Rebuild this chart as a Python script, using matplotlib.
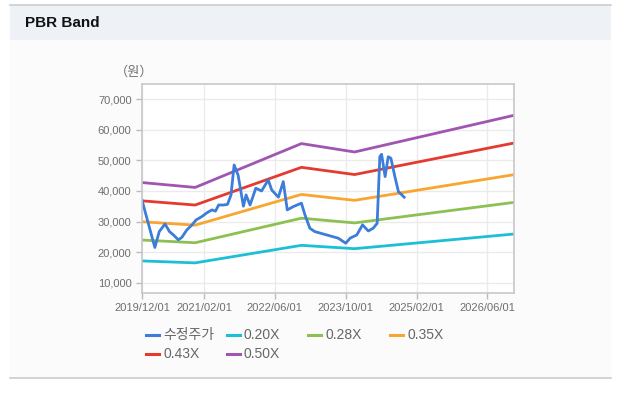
import matplotlib.pyplot as plt
from matplotlib.lines import Line2D
from matplotlib.patches import Rectangle

plt.rcParams['font.family'] = ['Liberation Sans', 'Noto Sans CJK KR', 'DejaVu Sans']

# ---- data (x = months since 2019/12/01) ----
tick_pos = [0, 14, 30, 46, 62, 78]
tick_labels = ['2019/12/01', '2021/02/01', '2022/06/01', '2023/10/01', '2025/02/01', '2026/06/01']

# book value per share at band knots
bps_month = [0, 12, 36, 48, 84]
bps = [85500, 82300, 111000, 105500, 129500]

multiples = [0.20, 0.28, 0.35, 0.43, 0.50]
band_names = ['0.20X', '0.28X', '0.35X', '0.43X', '0.50X']

# adjusted price
price_month = [0, 2.9, 3.9, 5.2, 6.2, 7.1, 8.2, 9.0, 10.1, 11.3, 12.2, 13.5, 14.7, 15.8,
               16.6, 17.3, 18.4, 19.3, 20.1, 20.8, 21.7, 22.9, 23.5, 24.4, 25.7, 27.0,
               28.5, 29.3, 30.8, 31.9, 32.8, 34.2, 36.0, 36.8, 37.9, 39.0, 41.7, 44.3,
               46.0, 47.0, 48.5, 49.8, 51.1, 52.2, 53.1, 53.7, 54.1, 54.9, 55.6, 56.2,
               57.1, 57.9, 59.2]
price = [37000, 21500, 26700, 29200, 26700, 25600, 24000, 24800, 27200, 28900, 30500,
         31600, 32900, 33800, 33400, 35400, 35400, 35600, 38700, 48500, 45200, 35000,
         38700, 35400, 40900, 40000, 43600, 40300, 37950, 43050, 33800, 34900, 36000,
         32150, 27800, 26700, 25600, 24550, 22900, 24550, 25600, 28900, 26900, 27800,
         29400, 51200, 52000, 44700, 51200, 50700, 44700, 39800, 37950]

price_color = '#3b7dd8'
band_colors = ['#1cbfd3', '#8cc152', '#f9a530', '#e53a2f', '#a055b0']

# ---- figure ----
fig = plt.figure(figsize=(6.2, 3.98), dpi=100)
W, H = 620, 398

def fx(px):
    return px / W

def fy(py):
    return 1 - py / H

# panel background, header, borders
fig.patches.append(Rectangle((fx(10), fy(378)), fx(600.5), 338 / H, transform=fig.transFigure,
                             facecolor='#fbfbfb', edgecolor='none', zorder=-2))
fig.patches.append(Rectangle((fx(10), fy(40)), fx(600.5), 35.5 / H, transform=fig.transFigure,
                             facecolor='#eef2f7', edgecolor='none', zorder=-2))
fig.add_artist(Line2D([fx(10), fx(610.5)], [fy(4.5), fy(4.5)], color='#cccccc', lw=1.2))
fig.add_artist(Line2D([fx(10), fx(610.5)], [fy(378), fy(378)], color='#cccccc', lw=1.2))
fig.text(fx(25), fy(23), 'PBR Band', fontsize=11, fontweight='bold', va='center', color='#111111')

ax = fig.add_axes([fx(142), fy(293), 372 / W, 209 / H])
ax.set_zorder(2)
ax.set_facecolor('white')

for m, name, c in zip(multiples, band_names, band_colors):
    ax.plot(bps_month, [m * b for b in bps], color=c, lw=2, solid_capstyle='round')
ax.plot(price_month, price, color=price_color, lw=2, solid_joinstyle='round')

ax.set_xlim(0, 84)
ax.set_ylim(6600, 75000)
ax.set_xticks(tick_pos)
ax.set_xticklabels(tick_labels)
ax.set_yticks(range(10000, 70001, 10000))
ax.set_yticklabels([f'{v:,}' for v in range(10000, 70001, 10000)])
ax.tick_params(axis='both', colors='#bbbbbb', labelcolor='#6e6e6e', labelsize=8,
               length=4, width=1)
ax.grid(True, color='#ebebeb', lw=1)
ax.set_axisbelow(True)
for s in ax.spines.values():
    s.set_color('#c8c8c8')
    s.set_linewidth(1.2)

fig.text(fx(134), fy(72), '（원）', fontsize=9.5, color='#6e6e6e', ha='center', va='center')

# legend
legend_names = ['수정주가'] + band_names
legend_colors = [price_color] + band_colors
cols = [146, 227, 308, 390]
rows = [335, 354]
for i, (name, c) in enumerate(zip(legend_names, legend_colors)):
    x0 = cols[i % 4]
    y0 = rows[i // 4]
    fig.add_artist(Line2D([fx(x0), fx(x0 + 13)], [fy(y0), fy(y0)], color=c, lw=2.2))
    fig.text(fx(x0 + 17), fy(y0), name, fontsize=10, color='#666666', va='center')

fig.savefig('out.png', dpi=100, facecolor='white')
